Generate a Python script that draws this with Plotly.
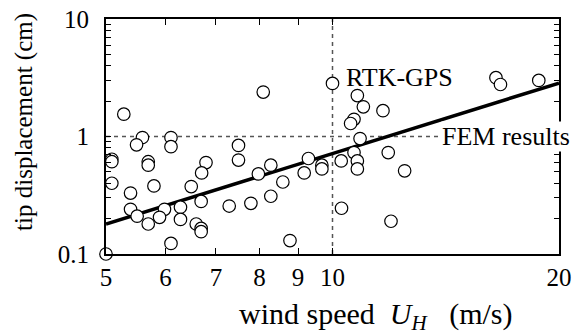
import plotly.graph_objects as go

# Measured data (wind speed U_H in m/s, tip displacement in cm)
wind_speed = [5.28, 8.09, 10.0, 5.59, 5.49, 6.10, 6.10, 5.09, 5.09, 5.69,
              5.69, 6.79, 6.70, 7.50, 7.50, 5.09, 5.39, 5.79, 6.49, 6.69,
              5.39, 5.50, 5.98, 5.89, 6.28, 6.28, 5.69, 6.59, 6.69, 6.69,
              6.10, 5.0, 7.29, 7.79, 8.28, 7.97, 8.28, 8.59, 9.29, 9.17,
              9.68, 9.68, 10.27, 10.28, 8.78, 10.79, 10.99, 11.67, 10.68, 10.57,
              10.88, 10.68, 11.86, 10.79, 10.79, 12.47, 11.96, 16.49, 16.72, 18.80]
tip_disp = [1.55, 2.39, 2.83, 0.98, 0.85, 0.98, 0.82, 0.64, 0.61, 0.61,
            0.57, 0.60, 0.49, 0.84, 0.63, 0.40, 0.33, 0.38, 0.375, 0.28,
            0.24, 0.21, 0.24, 0.205, 0.25, 0.197, 0.18, 0.18, 0.165, 0.155,
            0.123, 0.1, 0.256, 0.27, 0.31, 0.48, 0.57, 0.41, 0.65, 0.49,
            0.57, 0.53, 0.62, 0.245, 0.13, 2.23, 1.79, 1.66, 1.40, 1.29,
            0.96, 0.73, 0.73, 0.62, 0.53, 0.51, 0.19, 3.17, 2.77, 3.0]

fit_x = [5, 20]
fit_y = [0.18, 2.85]

ref_speed = [10, 10]
ref_speed_y = [0.1, 10]
fem_x = [5, 20]
fem_y = [1, 1]

x_ticks = [5, 6, 7, 8, 9, 10, 20]
x_ticktext = ["5", "6", "7", "8", "9", "10", "20"]
y_ticks = [0.1, 0.2, 0.3, 0.4, 0.5, 0.6, 0.7, 0.8, 0.9,
           1, 2, 3, 4, 5, 6, 7, 8, 9, 10]
y_ticktext = ["0.1"] + [""] * 8 + ["1"] + [""] * 8 + ["10"]

FONT = "Liberation Serif"

fig = go.Figure()
fig.add_trace(go.Scatter(x=ref_speed, y=ref_speed_y, mode="lines",
                         line=dict(color="#555555", width=1.5, dash="4px,4px"),
                         showlegend=False, hoverinfo="skip"))
fig.add_trace(go.Scatter(x=fem_x, y=fem_y, mode="lines",
                         line=dict(color="#555555", width=1.5, dash="4px,4px"),
                         showlegend=False, hoverinfo="skip"))
fig.add_trace(go.Scatter(x=fit_x, y=fit_y, mode="lines",
                         line=dict(color="black", width=3.5),
                         showlegend=False))
fig.add_trace(go.Scatter(x=wind_speed, y=tip_disp, mode="markers",
                         marker=dict(symbol="circle", size=12.5, color="white",
                                     line=dict(color="black", width=1.2)),
                         showlegend=False, cliponaxis=False))

fig.update_xaxes(type="log", range=[0.69897, 1.30103],
                 tickvals=x_ticks, ticktext=x_ticktext,
                 ticks="inside", ticklen=6, tickwidth=1.2, tickcolor="black",
                 showline=True, linecolor="black", linewidth=2, mirror="ticks",
                 showgrid=False, zeroline=False, automargin=False,
                 tickfont=dict(family=FONT, size=25, color="black"))
fig.update_yaxes(type="log", range=[-1, 1],
                 tickvals=y_ticks, ticktext=y_ticktext,
                 ticks="inside", ticklen=5, tickwidth=1.2, tickcolor="black",
                 showline=True, linecolor="black", linewidth=2, mirror="ticks",
                 showgrid=False, zeroline=False, automargin=False,
                 ticklabelstandoff=10,
                 tickfont=dict(family=FONT, size=25, color="black"))

fig.update_layout(
    width=580, height=336,
    margin=dict(l=106, r=21, t=19, b=82, autoexpand=False),
    paper_bgcolor="white", plot_bgcolor="white",
    annotations=[
        dict(text="RTK-GPS", xref="paper", yref="paper", x=0.649, y=0.753,
             xanchor="center", yanchor="middle",
             showarrow=False, font=dict(family=FONT, size=26, color="black")),
        dict(text="FEM results", xref="paper", yref="paper", x=0.883, y=0.5,
             xanchor="center", yanchor="middle",
             showarrow=False, bgcolor="white", borderpad=0,
             font=dict(family=FONT, size=26, color="black")),
        dict(text="tip displacement (cm)", xref="paper", yref="paper",
             x=-0.181, y=0.562, textangle=-90, showarrow=False,
             xanchor="center", yanchor="middle",
             font=dict(family=FONT, size=25, color="black")),
        dict(text="wind speed\u00a0\u00a0<i>U</i><sub><i>H</i></sub>\u00a0\u00a0\u00a0(m/s)",
             xref="paper", yref="paper", x=0.596, y=-0.262,
             xanchor="center", yanchor="middle",
             showarrow=False, font=dict(family=FONT, size=30, color="black")),
    ],
)

fig.write_html("out.html")
